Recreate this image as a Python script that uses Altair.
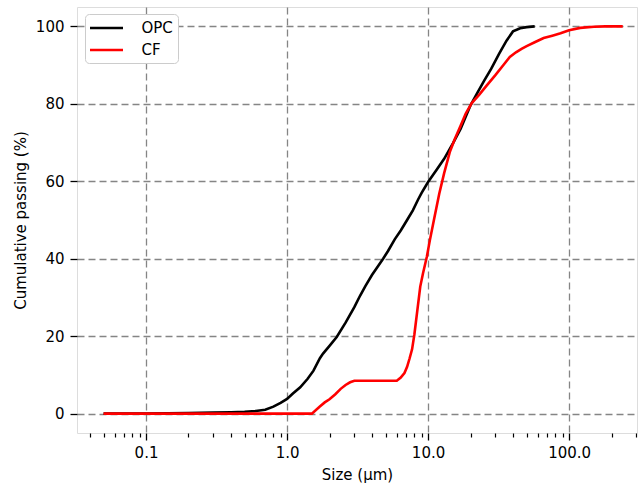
import altair as alt
import pandas as pd

# ---- data ----
opc_size = [0.05, 0.1, 0.2, 0.3, 0.4, 0.5, 0.6, 0.7, 0.8, 0.9, 1.0, 1.1, 1.24, 1.4, 1.54,
            1.71, 1.8, 2.0, 2.25, 2.6, 3.0, 3.3, 3.6, 4.0, 4.4, 4.8, 5.2, 5.8, 6.4, 7.1,
            7.8, 8.5, 9.0, 10.0, 11.5, 13.0, 15.0, 17.0, 20.0, 22.5, 25.0, 28.0, 32.0,
            36.0, 40.0, 45.0, 50.0, 57.0]
opc_pct = [0, 0.05, 0.15, 0.25, 0.35, 0.5, 0.7, 1.0, 1.8, 2.8, 3.8, 5.2, 6.8, 9.0, 11.1,
           14.3, 15.5, 17.5, 19.8, 23.5, 27.5, 30.5, 33.0, 35.8, 38.0, 40.0, 42.0, 45.0,
           47.3, 50.0, 52.5, 55.3, 57.0, 59.8, 63.0, 65.8, 69.8, 73.5, 79.6, 83.0, 86.0,
           89.0, 93.0, 96.3, 98.7, 99.5, 99.8, 100]

cf_size = [0.05, 0.5, 1.0, 1.5, 1.7, 1.85, 2.0, 2.2, 2.4, 2.6, 2.8, 3.0, 4.0, 5.0, 6.0,
           6.4, 6.8, 7.1, 7.4, 7.7, 8.0, 8.4, 8.8, 9.2, 9.8, 10.3, 11.0, 12.0, 13.0, 14.3,
           15.5, 17.0, 18.5, 20.4, 23.0, 26.0, 30.0, 34.0, 38.0, 42.0, 46.0, 50.0, 57.0,
           66.0, 76.0, 87.0, 100.0, 120.0, 150.0, 180.0, 240.0]
cf_pct = [0, 0, 0, 0, 1.8, 2.9, 3.7, 5.0, 6.4, 7.4, 8.1, 8.5, 8.5, 8.5, 8.5,
          9.3, 10.5, 12.1, 14.3, 16.6, 20.5, 26.8, 32.8, 36.2, 40.5, 44.8, 50.0, 56.8,
          62.1, 67.7, 71.0, 74.3, 77.5, 80.2, 82.3, 84.7, 87.4, 89.9, 92.1, 93.3, 94.2,
          94.9, 95.9, 97.0, 97.6, 98.2, 99.0, 99.6, 99.9, 100, 100]

series_names = ["OPC", "CF"]
series_colors = ["#000000", "#ff0000"]
x_major = [0.1, 1, 10, 100]
x_minor = [0.04, 0.05, 0.06, 0.07, 0.08, 0.09,
           0.2, 0.3, 0.4, 0.5, 0.6, 0.7, 0.8, 0.9,
           2, 3, 4, 5, 6, 7, 8, 9,
           20, 30, 40, 50, 60, 70, 80, 90,
           200, 300]
y_ticks = [0, 20, 40, 60, 80, 100]

df = pd.concat([
    pd.DataFrame({"size": opc_size, "pct": opc_pct, "series": "OPC"}),
    pd.DataFrame({"size": cf_size, "pct": cf_pct, "series": "CF"}),
], ignore_index=True)

FONT = "DejaVu Sans"
FS = 15
xscale = alt.Scale(type="log", domain=[0.0324, 303], nice=False)
yscale = alt.Scale(domain=[-5, 105], nice=False, zero=False)

x_axis = alt.Axis(values=x_major, format=".1f", title="Size (µm)", orient="bottom",
                  grid=True, gridDash=[7, 4], gridColor="#858585", gridWidth=1.3,
                  tickSize=7, tickWidth=1.3, tickColor="#000", domain=False,
                  labelFontSize=FS, labelFont=FONT, labelColor="#000", labelPadding=5,
                  titleFontSize=FS, titleFont=FONT, titleFontWeight="normal",
                  titleColor="#000", titlePadding=7)
y_axis = alt.Axis(values=y_ticks, title="Cumulative passing (%)",
                  grid=True, gridDash=[7, 4], gridColor="#858585", gridWidth=1.3,
                  tickSize=7, tickWidth=1.3, tickColor="#000", domain=False,
                  labelFontSize=FS, labelFont=FONT, labelColor="#000", labelPadding=6,
                  titleFontSize=FS, titleFont=FONT, titleFontWeight="normal",
                  titleColor="#000", titlePadding=7)
minor_axis = alt.Axis(values=x_minor, labels=False, title=None, orient="bottom",
                      grid=False, domain=False, tickSize=4, tickWidth=1.2, tickColor="#000")

color = alt.Color("series:N",
                  scale=alt.Scale(domain=series_names, range=series_colors),
                  legend=alt.Legend(title=None, orient="none", legendX=8, legendY=7,
                                    symbolType="M-2.2,0H2.2", symbolSize=225,
                                    symbolOffset=7.5, symbolStrokeWidth=2.6,
                                    labelFontSize=FS, labelFont=FONT, labelColor="#000",
                                    labelOffset=26, padding=5, rowPadding=5,
                                    cornerRadius=4, strokeColor="#cccccc",
                                    fillColor="white"))

base = alt.Chart(df)
opc_line = base.transform_filter(alt.datum.series == "OPC").mark_line(strokeWidth=2.6).encode(
    x=alt.X("size:Q", scale=xscale, axis=x_axis),
    y=alt.Y("pct:Q", scale=yscale, axis=y_axis),
    color=color,
)
cf_line = base.transform_filter(alt.datum.series == "CF").mark_line(strokeWidth=2.6).encode(
    x=alt.X("size:Q", scale=xscale, axis=None),
    y=alt.Y("pct:Q", scale=yscale, axis=y_axis),
    color=color,
)
minor = base.mark_point(opacity=0).encode(
    x=alt.X("size:Q", scale=xscale, axis=minor_axis),
    y=alt.Y("pct:Q", scale=yscale, axis=y_axis),
)

chart = alt.layer(opc_line, cf_line, minor).resolve_axis(x="independent").properties(
    width=560, height=426,
    autosize=alt.AutoSizeParams(type="none"),
    padding={"left": 77, "top": 7, "right": 2, "bottom": 52},
).configure_view(stroke="#000", strokeWidth=1.3).configure(background="white")

chart.save("out.html", embed_options={"renderer": "svg", "actions": False})
